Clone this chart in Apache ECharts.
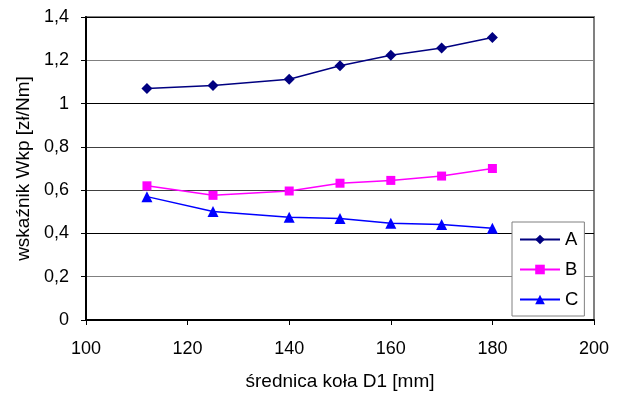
<!DOCTYPE html>
<html>
<head>
<meta charset="utf-8">
<script src="https://cdn.jsdelivr.net/npm/echarts@6/dist/echarts.min.js"></script>
<style>
html, body { margin: 0; padding: 0; background: #fff; }
#chart { width: 625px; height: 396px; }
</style>
</head>
<body>
<div id="chart"></div>
<script>
var diameters = [112, 125, 140, 150, 160, 170, 180];
var seriesA = [1.07, 1.083, 1.112, 1.175, 1.223, 1.257, 1.305];
var seriesB = [0.62, 0.576, 0.596, 0.632, 0.645, 0.665, 0.70];
var seriesC = [0.57, 0.501, 0.475, 0.469, 0.447, 0.441, 0.424];
var seriesNames = ['A', 'B', 'C'];

function pairs(vals) {
    var out = [];
    for (var i = 0; i < diameters.length; i++) {
        out.push([diameters[i], vals[i]]);
    }
    return out;
}

var font = 'Arial, "Liberation Sans", sans-serif';
var myChart = echarts.init(document.getElementById('chart'));
var option = {
    backgroundColor: '#fff',
    animation: false,
    grid: {
        show: true,
        left: 86,
        right: 31,
        top: 17,
        bottom: 74,
        borderColor: '#808080',
        borderWidth: 2,
        backgroundColor: '#fff'
    },
    legend: {
        orient: 'vertical',
        left: 512,
        top: 222,
        padding: [8, 6, 7, 7],
        itemWidth: 40,
        itemHeight: 12,
        itemGap: 11,
        itemTextGap: 5,
        backgroundColor: '#fff',
        borderColor: '#808080',
        borderWidth: 1,
        borderRadius: 0,
        textStyle: { fontFamily: font, fontSize: 18.5, lineHeight: 19, color: '#000' },
        data: seriesNames
    },
    xAxis: {
        type: 'value',
        min: 100,
        max: 200,
        interval: 20,
        name: 'średnica koła D1 [mm]',
        nameLocation: 'middle',
        nameGap: 52,
        nameTextStyle: { fontFamily: font, fontSize: 19, color: '#000' },
        axisLine: { show: true, onZero: false, lineStyle: { color: '#000', width: 2 } },
        axisTick: { show: true, inside: false, length: 5, lineStyle: { color: '#000' } },
        axisLabel: { fontFamily: font, fontSize: 18, color: '#000', margin: 20 },
        splitLine: { show: false }
    },
    yAxis: {
        type: 'value',
        min: 0,
        max: 1.4,
        interval: 0.2,
        name: 'wskaźnik Wkp [zł/Nm]',
        nameLocation: 'middle',
        nameGap: 51,
        nameTextStyle: { fontFamily: font, fontSize: 19, color: '#000' },
        axisLine: { show: true, lineStyle: { color: '#000', width: 2 } },
        axisTick: { show: true, inside: false, length: 5, lineStyle: { color: '#000' } },
        axisLabel: {
            fontFamily: font, fontSize: 18, color: '#000', margin: 17,
            formatter: function (v) {
                return (Math.round(v * 10) / 10).toString().replace('.', ',');
            }
        },
        splitLine: {
            show: true,
            lineStyle: {
                width: 1,
                color: ['#000', '#808080', '#000', '#404040', '#404040', '#000', '#808080', '#000']
            }
        }
    },
    series: [{
        name: 'A',
        type: 'line',
        data: pairs(seriesA),
        symbol: 'diamond',
        symbolSize: 11,
        lineStyle: { color: '#000080', width: 1.5 },
        itemStyle: { color: '#000080' }
    }, {
        name: 'B',
        type: 'line',
        data: pairs(seriesB),
        symbol: 'rect',
        symbolSize: 9,
        lineStyle: { color: '#ff00ff', width: 1.5 },
        itemStyle: { color: '#ff00ff' }
    }, {
        name: 'C',
        type: 'line',
        data: pairs(seriesC),
        symbol: 'triangle',
        symbolSize: 11,
        lineStyle: { color: '#0000ff', width: 1.5 },
        itemStyle: { color: '#0000ff' }
    }]
};
myChart.setOption(option);
window.onresize = myChart.resize;
</script>
</body>
</html>
